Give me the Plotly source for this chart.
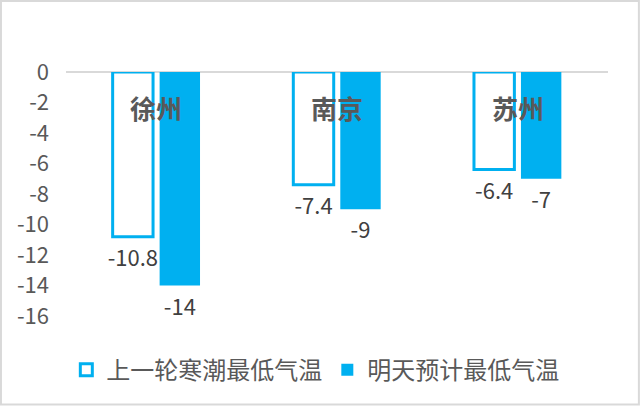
import plotly.graph_objects as go

cities = ["徐州", "南京", "苏州"]
last_wave = [-10.8, -7.4, -6.4]
tomorrow = [-14, -9, -7]
series_names = ["上一轮寒潮最低气温", "明天预计最低气温"]
y_ticks = [0, -2, -4, -6, -8, -10, -12, -14, -16]

blue = "#00B0F0"
font_family = "Noto Sans CJK SC, Microsoft YaHei, sans-serif"

fig = go.Figure()
fig.add_trace(go.Bar(
    x=cities, y=last_wave, name=series_names[0],
    marker=dict(color="white", line=dict(color=blue, width=3)),
    text=[str(v) for v in last_wave], textposition="outside", constraintext="none",
    textfont=dict(size=22, color="#404040"), cliponaxis=False,
))
fig.add_trace(go.Bar(
    x=cities, y=tomorrow, name=series_names[1],
    marker=dict(color=blue, line=dict(width=0)),
    text=[str(v) for v in tomorrow], textposition="outside", constraintext="none",
    textfont=dict(size=22, color="#404040"), cliponaxis=False,
))

for c in cities:
    fig.add_annotation(x=c, y=-2.35, text="<b>" + c + "</b>", showarrow=False,
                       font=dict(size=26, color="#595959"))

# light grey frame round the whole chart
fig.add_shape(type="rect", xref="paper", yref="paper", x0=-0.12, x1=1.057, y0=-0.363, y1=1.291,
              line=dict(color="#D9D9D9", width=2))

fig.update_layout(
    width=640, height=406,
    margin=dict(l=66, r=32, t=72, b=90),
    paper_bgcolor="white", plot_bgcolor="white",
    barmode="group", bargap=0.48, bargroupgap=0.14,
    font=dict(family=font_family, color="#595959"),
    showlegend=True,
    legend=dict(orientation="h", x=0.46, xanchor="center", y=-0.13, yanchor="top",
                font=dict(size=24, color="#595959"), itemwidth=30, tracegroupgap=0),
    xaxis=dict(showticklabels=False, showline=False, showgrid=False, zeroline=False),
    yaxis=dict(range=[-16, 0], tickvals=y_ticks, ticktext=[str(v) for v in y_ticks],
               showgrid=False, zeroline=True, zerolinecolor="#D9D9D9", zerolinewidth=2,
               tickfont=dict(size=22, color="#595959"), ticklabelstandoff=16),
)

fig.write_html("out.html", config={"displayModeBar": False},
               post_script="document.body.style.margin='0px';")
